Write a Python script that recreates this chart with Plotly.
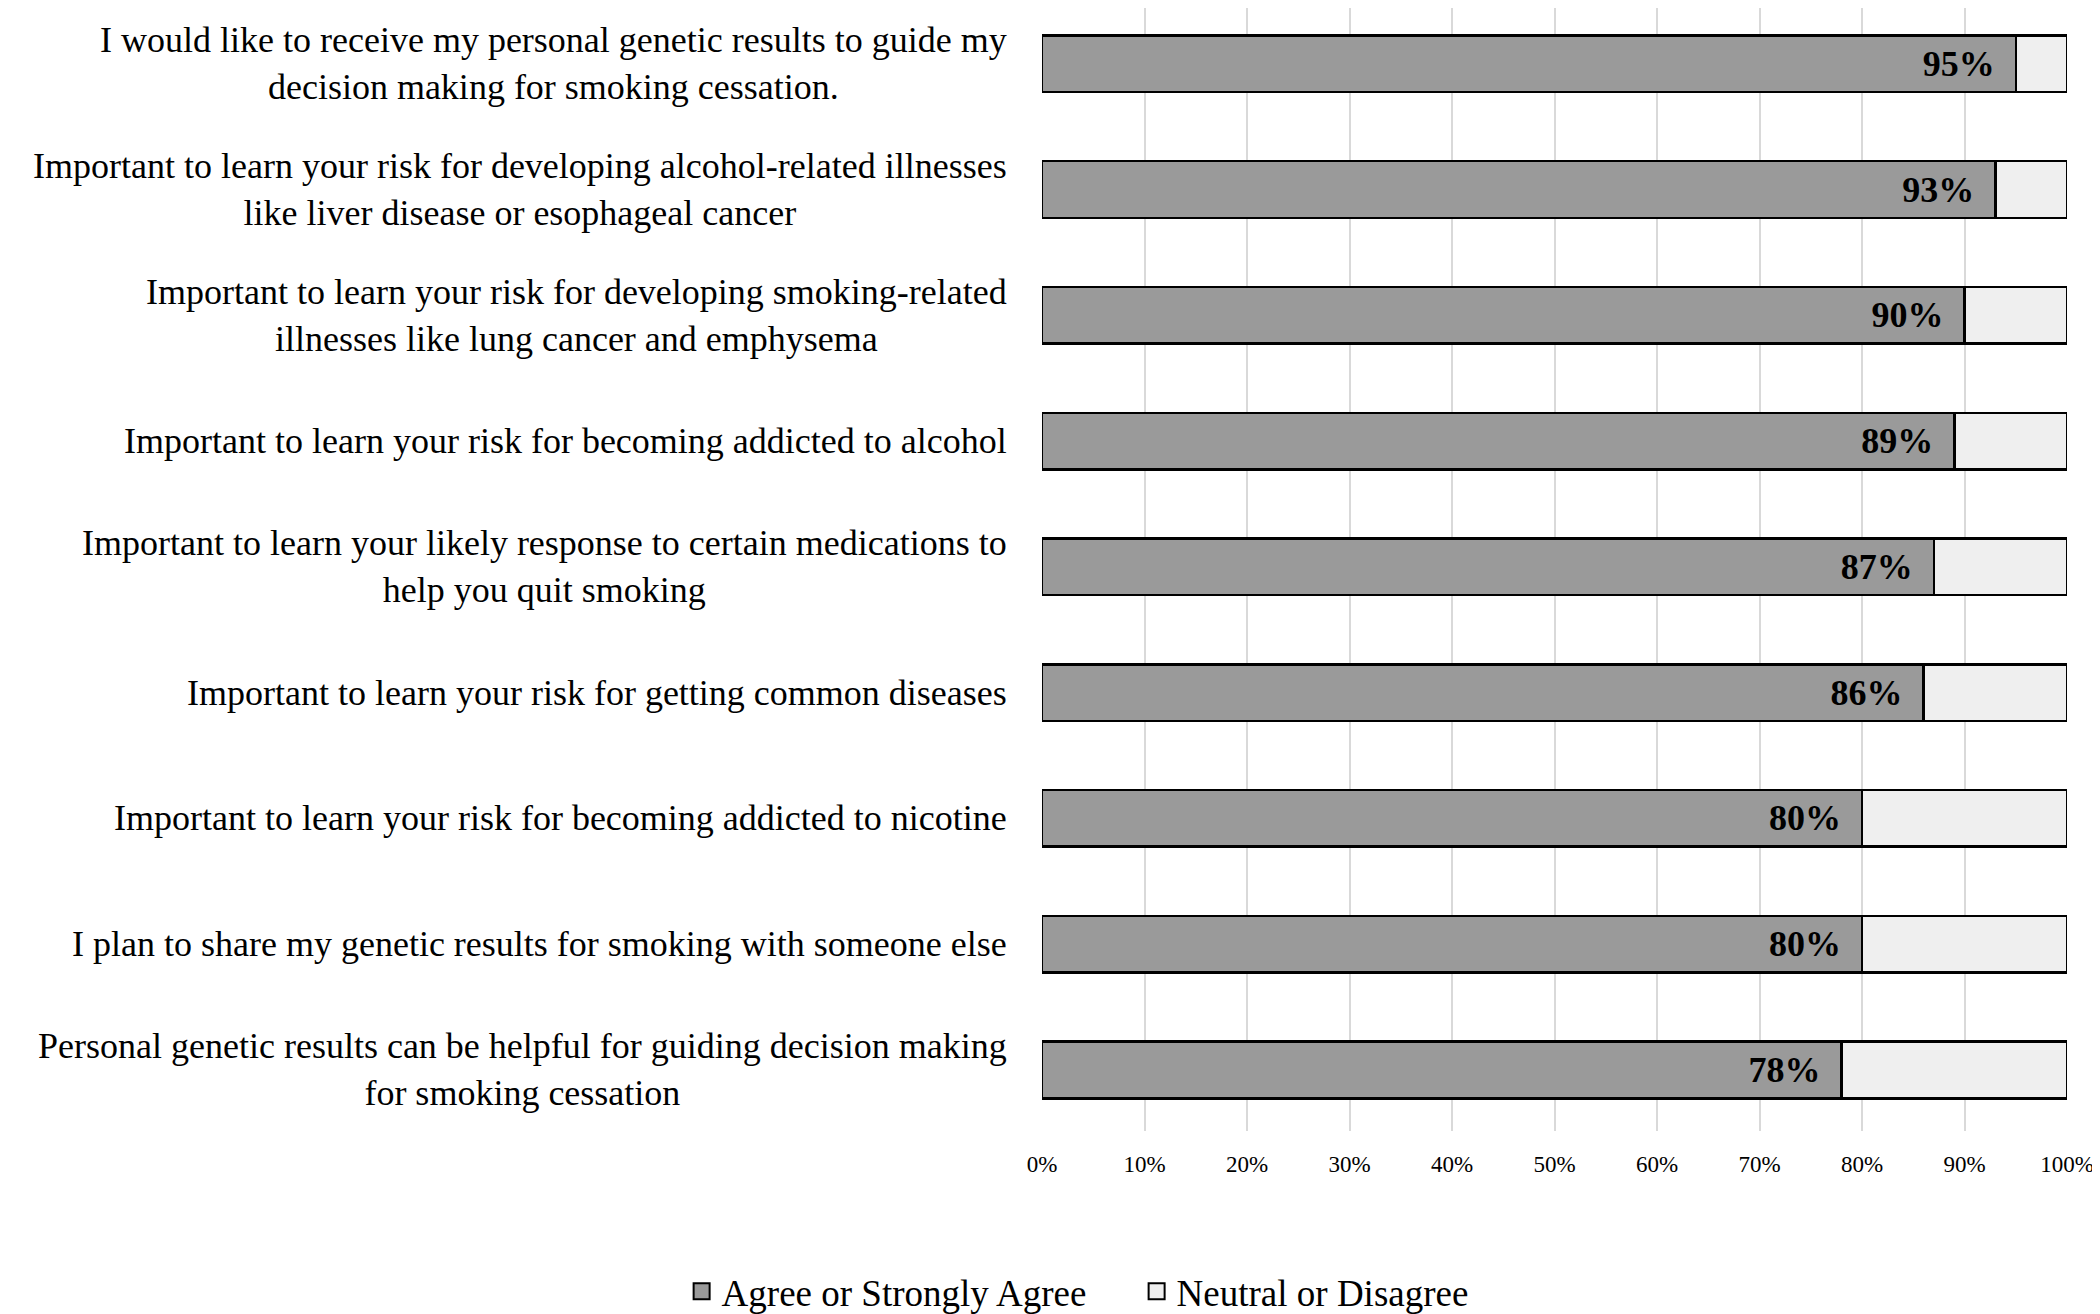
import plotly.graph_objects as go

statements = [
    "I would like to receive my personal genetic results to guide my<br>decision making for smoking cessation.",
    "Important to learn your risk for developing alcohol-related illnesses<br>like liver disease or esophageal cancer",
    "Important to learn your risk for developing smoking-related<br>illnesses like lung cancer and emphysema",
    "Important to learn your risk for becoming addicted to alcohol",
    "Important to learn your likely response to certain medications to<br>help you quit smoking",
    "Important to learn your risk for getting common diseases",
    "Important to learn your risk for becoming addicted to nicotine",
    "I plan to share my genetic results for smoking with someone else",
    "Personal genetic results can be helpful for guiding decision making<br>for smoking cessation",
]
agree = [95, 93, 90, 89, 87, 86, 80, 80, 78]
neutral = [100 - a for a in agree]
ticks = [0, 10, 20, 30, 40, 50, 60, 70, 80, 90, 100]

FONT = "Liberation Serif"
AGREE_COL, NEUTRAL_COL = "#9a9a9a", "#efefef"
ids = list(range(len(statements)))

fig = go.Figure()
fig.add_trace(go.Bar(
    y=ids, x=agree, orientation="h", name="Agree or Strongly Agree", showlegend=False,
    marker=dict(color=AGREE_COL, line=dict(color="black", width=2.5)),
    text=[f"{a}%\u2002" for a in agree], textposition="inside", insidetextanchor="end",
    textfont=dict(family=FONT, size=36, color="black", weight="bold"),
))
fig.add_trace(go.Bar(
    y=ids, x=neutral, orientation="h", name="Neutral or Disagree", showlegend=False,
    marker=dict(color=NEUTRAL_COL, line=dict(color="black", width=2.5)),
))

# legend-only entries with larger square swatches
for name, col in [("Agree or Strongly Agree", AGREE_COL), ("Neutral or Disagree", NEUTRAL_COL)]:
    fig.add_trace(go.Scatter(
        x=[None], y=[None], mode="markers", name=name,
        marker=dict(symbol="square", size=16, color=col, line=dict(color="black", width=2)),
    ))

for i, s in zip(ids, statements):
    fig.add_annotation(
        x=0, xref="paper", y=i, yref="y", text=s, showarrow=False,
        xanchor="right", xshift=-33, align="center",
        font=dict(family=FONT, size=36, color="black"),
    )

# page body adds an 8px offset, so the figure is 8px smaller than the window
fig.update_layout(
    width=2092, height=1306, barmode="stack", bargap=0.55,
    paper_bgcolor="white", plot_bgcolor="white",
    margin=dict(l=1034, r=33, t=0, b=183),
    font=dict(family=FONT, color="black"),
    legend=dict(orientation="h", x=0.322, xanchor="left", xref="container",
                y=0.017, yanchor="middle", yref="container", entrywidth=410,
                font=dict(family=FONT, size=37), traceorder="normal"),
)
fig.update_xaxes(range=[0, 100], tickvals=ticks, ticktext=[f"{t}%" for t in ticks],
                 showgrid=True, gridcolor="#d9d9d9", gridwidth=1.5, zeroline=False,
                 tickfont=dict(family=FONT, size=23), ticks="", ticklabelstandoff=17)
fig.update_yaxes(range=[8.485, -0.443], showticklabels=False, showgrid=False, zeroline=False)

fig.write_html("out.html")
